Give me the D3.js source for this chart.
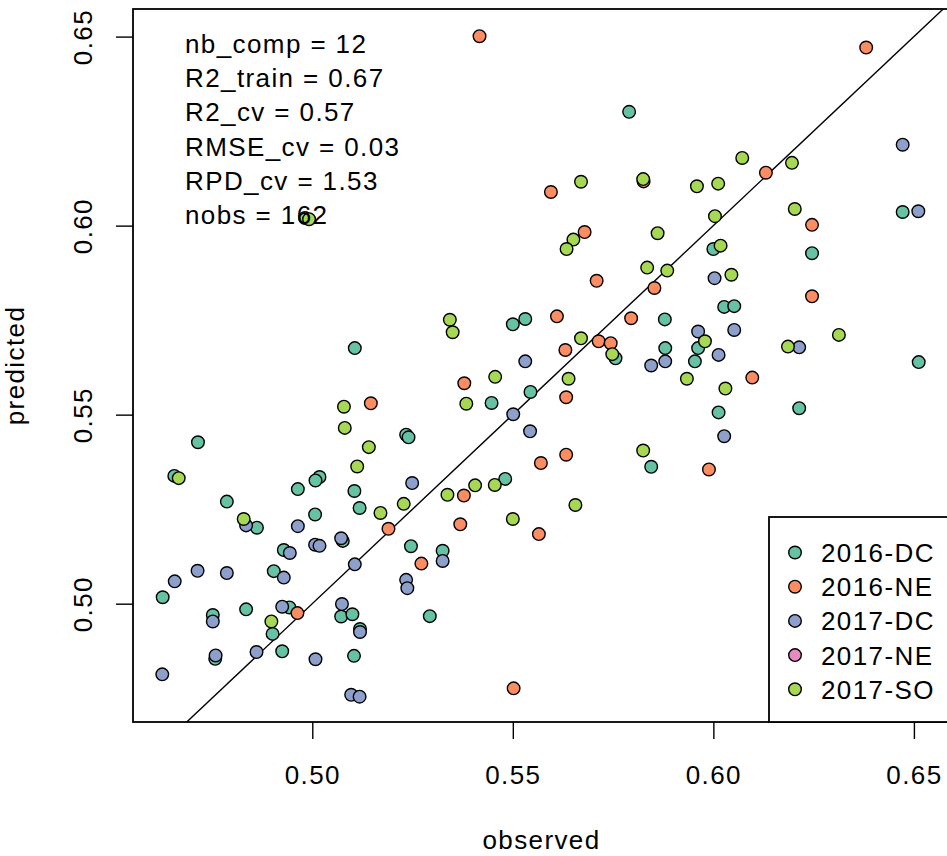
<!DOCTYPE html>
<html>
<head>
<meta charset="utf-8">
<script src="https://cdn.jsdelivr.net/npm/d3@7"></script>
<style>
  html, body { margin: 0; padding: 0; background: #fff; }
  text { font-family: "Liberation Sans", Arial, Helvetica, sans-serif; font-size: 26px; letter-spacing: 1.4px; fill: #000; }
</style>
</head>
<body>
<svg id="chart" width="947" height="856"></svg>
<script>
// ---------------- data (observed, predicted) ----------------
const seriesNames = ["2016-DC", "2016-NE", "2017-DC", "2017-NE", "2017-SO"];
const seriesColors = ["#66C2A5", "#FC8D62", "#8DA0CB", "#E78AC3", "#A6D854"];

const dc2016 = [
  [0.5790,0.6301],[0.6000,0.5938],[0.6246,0.5927],[0.6472,0.6036],[0.6027,0.5785],[0.6052,0.5787],
  [0.5962,0.5676],[0.5954,0.5641],[0.6512,0.5639],[0.6013,0.5506],[0.6214,0.5517],[0.5879,0.5752],
  [0.5880,0.5676],[0.5756,0.5649],[0.5500,0.5739],[0.5531,0.5753],[0.5544,0.5560],[0.5447,0.5531],
  [0.5845,0.5362],[0.5481,0.5330],[0.5106,0.5676],[0.4715,0.5427],[0.5234,0.5447],[0.5240,0.5440],
  [0.5018,0.5335],[0.5008,0.5326],[0.4656,0.5338],[0.4964,0.5303],[0.5105,0.5298],[0.4787,0.5270],
  [0.4862,0.5201],[0.5118,0.5253],[0.5007,0.5236],[0.5246,0.5152],[0.4929,0.5142],[0.4904,0.5086],
  [0.4627,0.5017],[0.5072,0.4966],[0.5100,0.4972],[0.4943,0.4990],[0.4835,0.4985],[0.4752,0.4970],
  [0.4901,0.4920],[0.5119,0.4933],[0.4925,0.4874],[0.4758,0.4854],[0.5104,0.4862],[0.5325,0.5140],
  [0.5293,0.4967],[0.5076,0.5166]
];
const ne2016 = [
  [0.5417,0.6501],[0.5595,0.6089],[0.5826,0.6117],[0.5679,0.5983],[0.6381,0.6471],[0.6131,0.6140],
  [0.6246,0.6002],[0.6246,0.5813],[0.6097,0.5598],[0.5989,0.5355],[0.5709,0.5854],[0.5853,0.5835],
  [0.5610,0.5760],[0.5795,0.5755],[0.5714,0.5694],[0.5744,0.5689],[0.5631,0.5671],[0.5379,0.5583],
  [0.5633,0.5546],[0.5633,0.5394],[0.5570,0.5372],[0.5146,0.5530],[0.5190,0.5198],[0.4963,0.4975],
  [0.5378,0.5286],[0.5369,0.5210],[0.5565,0.5184],[0.5272,0.5106],[0.5502,0.4776]
];
const dc2017 = [
  [0.6472,0.6214],[0.6511,0.6038],[0.6003,0.5861],[0.6052,0.5724],[0.5962,0.5720],[0.6013,0.5658],
  [0.6214,0.5678],[0.6027,0.5443],[0.5845,0.5630],[0.5880,0.5641],[0.5531,0.5641],[0.5501,0.5501],
  [0.5543,0.5456],[0.5249,0.5319],[0.4835,0.5207],[0.4964,0.5205],[0.5072,0.5173],[0.5007,0.5156],
  [0.5018,0.5153],[0.4944,0.5134],[0.5106,0.5104],[0.4714,0.5087],[0.4787,0.5081],[0.4929,0.5069],
  [0.4657,0.5059],[0.5234,0.5063],[0.5237,0.5041],[0.5074,0.4999],[0.4925,0.4992],[0.4752,0.4953],
  [0.5119,0.4925],[0.4861,0.4872],[0.4759,0.4863],[0.5008,0.4853],[0.4626,0.4813],[0.5097,0.4759],
  [0.5118,0.4754],[0.5325,0.5113]
];
const ne2017 = [];
const so2017 = [
  [0.4982,0.6020],[0.4992,0.6017],[0.5670,0.6116],[0.5825,0.6123],[0.5959,0.6104],[0.6012,0.6111],
  [0.6072,0.6179],[0.6196,0.6166],[0.6203,0.6044],[0.6004,0.6025],[0.6018,0.5947],[0.5861,0.5980],
  [0.5651,0.5963],[0.5634,0.5938],[0.5835,0.5889],[0.5885,0.5881],[0.6045,0.5870],[0.5979,0.5694],
  [0.6186,0.5680],[0.6313,0.5711],[0.5934,0.5595],[0.6030,0.5569],[0.5670,0.5702],[0.5748,0.5660],
  [0.5343,0.5751],[0.5350,0.5718],[0.5456,0.5600],[0.5639,0.5595],[0.5384,0.5529],[0.5825,0.5405],
  [0.5406,0.5313],[0.5455,0.5314],[0.5337,0.5288],[0.5656,0.5261],[0.5500,0.5224],[0.5079,0.5521],
  [0.5081,0.5465],[0.5141,0.5414],[0.5112,0.5363],[0.4667,0.5332],[0.5170,0.5240],[0.5228,0.5264],
  [0.4829,0.5224],[0.4898,0.4953]
];
const seriesData = [dc2016, ne2016, dc2017, ne2017, so2017];

const xTicks = [0.50, 0.55, 0.60, 0.65];
const yTicks = [0.50, 0.55, 0.60, 0.65];
const statLines = ["nb_comp = 12", "R2_train = 0.67", "R2_cv = 0.57", "RMSE_cv = 0.03", "RPD_cv = 1.53", "nobs = 162"];
const xLabel = "observed";
const yLabel = "predicted";

// ---------------- layout ----------------
const plot = { left: 133, right: 950, top: 9, bottom: 722 };
const lineH = 34.2;
const svg = d3.select("#chart");

const x = d3.scaleLinear().domain([0.4553, 0.6590]).range([plot.left, plot.right]);
const y = d3.scaleLinear().domain([0.4687, 0.6573]).range([plot.bottom, plot.top]);

svg.append("defs").append("clipPath").attr("id", "clip")
  .append("rect").attr("x", plot.left).attr("y", plot.top)
  .attr("width", plot.right - plot.left).attr("height", plot.bottom - plot.top);

// 1:1 line
const lo = Math.min(x.domain()[0], y.domain()[0]);
const hi = Math.max(x.domain()[1], y.domain()[1]);
svg.append("line").attr("clip-path", "url(#clip)")
  .attr("x1", x(lo)).attr("y1", y(lo)).attr("x2", x(hi)).attr("y2", y(hi))
  .attr("stroke", "#000").attr("stroke-width", 1.4);

// points
seriesData.forEach((arr, i) => {
  svg.append("g").selectAll("circle").data(arr).join("circle")
    .attr("cx", d => x(d[0])).attr("cy", d => y(d[1])).attr("r", 6.3)
    .attr("fill", seriesColors[i]).attr("stroke", "#000").attr("stroke-width", 1.4);
});

// frame
svg.append("rect").attr("x", plot.left).attr("y", plot.top)
  .attr("width", plot.right - plot.left).attr("height", plot.bottom - plot.top)
  .attr("fill", "none").attr("stroke", "#000").attr("stroke-width", 1.8);

// x axis
const gx = svg.append("g").attr("transform", `translate(0,${plot.bottom})`)
  .call(d3.axisBottom(x).tickValues(xTicks).tickSize(17).tickSizeOuter(0).tickFormat(d3.format(".2f")));
gx.select(".domain").remove();
gx.selectAll(".tick line").attr("stroke", "#000").attr("stroke-width", 1.4);
gx.selectAll(".tick text").attr("y", 1.8 * lineH).attr("dy", null)
  .attr("font-family", null).attr("font-size", null).style("fill", "#000");

// y axis
const gy = svg.append("g").attr("transform", `translate(${plot.left},0)`)
  .call(d3.axisLeft(y).tickValues(yTicks).tickSize(17).tickSizeOuter(0).tickFormat(d3.format(".2f")));
gy.select(".domain").remove();
gy.selectAll(".tick line").attr("stroke", "#000").attr("stroke-width", 1.4);
gy.selectAll(".tick text").attr("x", null).attr("dy", null)
  .attr("text-anchor", "middle")
  .attr("transform", `translate(${-1.2 * lineH},0) rotate(-90)`)
  .attr("font-family", null).attr("font-size", null).style("fill", "#000");

// axis titles
svg.append("text").attr("x", (plot.left + plot.right) / 2).attr("y", 849)
  .attr("text-anchor", "middle").text(xLabel);
svg.append("text").attr("text-anchor", "middle")
  .attr("transform", `translate(${plot.left - 3.2 * lineH},${(plot.top + plot.bottom) / 2}) rotate(-90)`)
  .text(yLabel);

// stats text
svg.append("g").selectAll("text").data(statLines).join("text")
  .attr("x", 185).attr("y", (d, i) => 53 + i * lineH).text(d => d);

// legend
const leg = svg.append("g");
leg.append("rect").attr("x", 769).attr("y", 517).attr("width", 200).attr("height", plot.bottom - 517)
  .attr("fill", "#fff").attr("stroke", "#000").attr("stroke-width", 1.8);
seriesNames.forEach((name, i) => {
  const by = 562 + i * lineH;
  leg.append("circle").attr("cx", 795).attr("cy", by - 9.5).attr("r", 6.3)
    .attr("fill", seriesColors[i]).attr("stroke", "#000").attr("stroke-width", 1.4);
  leg.append("text").attr("x", 821).attr("y", by).text(name);
});
</script>
</body>
</html>
